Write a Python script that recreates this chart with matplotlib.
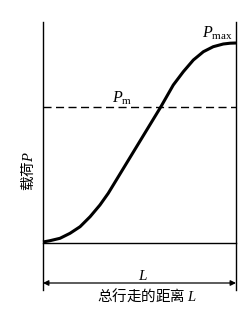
import matplotlib.pyplot as plt

plt.rcParams['font.family'] = ['Noto Sans CJK SC', 'DejaVu Sans']
plt.rcParams['mathtext.fontset'] = 'custom'
plt.rcParams['mathtext.it'] = 'Liberation Serif:italic'
plt.rcParams['mathtext.rm'] = 'Liberation Serif'

# load curve, distance as fraction of L, load as fraction of Pmax
dist = [0, 0.036, 0.088, 0.140, 0.192, 0.244, 0.295, 0.338, 0.61,
        0.675, 0.727, 0.779, 0.831, 0.882, 0.934, 0.97, 1.0]
load = [0.005, 0.0115, 0.0235, 0.0485, 0.0815, 0.1315, 0.19, 0.2485, 0.68,
        0.79, 0.8565, 0.915, 0.9565, 0.9815, 0.995, 0.999, 1.0]
p_mean = 0.68

fig = plt.figure(figsize=(2.5, 3.21), dpi=100)
ax = fig.add_axes([0, 0, 1, 1])
ax.set_xlim(-0.2228, 1.0725)
ax.set_ylim(-0.39, 1.215)
ax.axis('off')

# frame
ax.plot([0, 0], [-0.235, 1.105], color='black', lw=1.0)
ax.plot([1, 1], [-0.235, 1.105], color='black', lw=1.0)
ax.plot([0, 1], [0, 0], color='black', lw=1.0)

# mean load
ax.plot([0, 1], [p_mean, p_mean], color='black', lw=1.0, dashes=(5.8, 3.2))

# load curve
ax.plot(dist, load, color='black', lw=2.2, solid_capstyle='butt',
        solid_joinstyle='round')

# distance arrow
ax.annotate('', xy=(1, -0.2), xytext=(0, -0.2),
            arrowprops=dict(arrowstyle='<|-|>', color='black', lw=0.9,
                            shrinkA=0, shrinkB=0, mutation_scale=8))

ax.text(0.408, 0.725, r'$P_{\mathrm{m}}$', fontsize=11.5, ha='center', va='center')
ax.text(0.985, 1.05, r'$P_{\mathrm{max}}$', fontsize=11.5, ha='right', va='center')
ax.text(0.518, -0.16, r'$L$', fontsize=11, ha='center', va='center')
ax.text(0.54, -0.262, r'总行走的距离 $L$', fontsize=10.5, ha='center', va='center')
ax.text(-0.08, 0.36, r'载荷$P$', fontsize=10.5, ha='center', va='center', rotation=90)

plt.savefig('out.png', dpi=100)
